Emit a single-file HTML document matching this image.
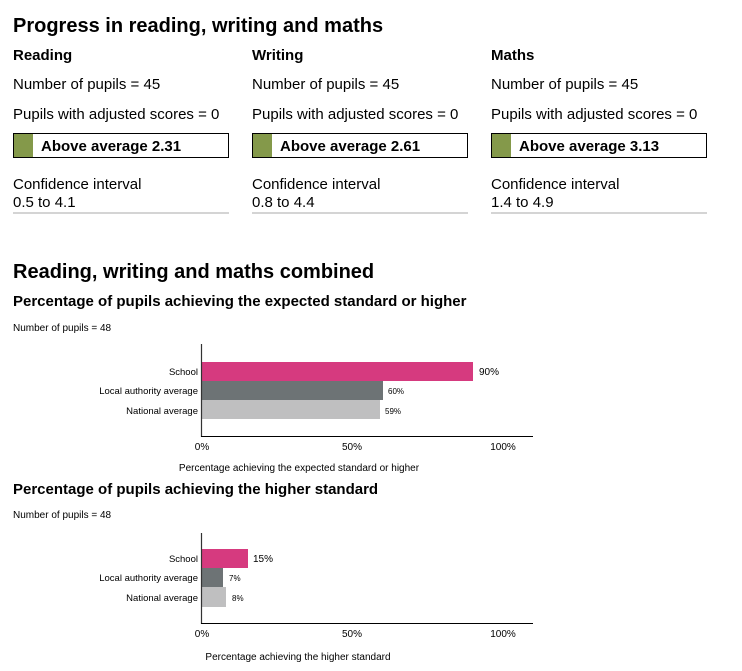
<!DOCTYPE html>
<html><head><meta charset="utf-8"><style>
html,body{margin:0;padding:0;background:#fff;}
svg{display:block;font-family:"Liberation Sans",Arial,sans-serif;}
</style></head><body>
<svg width="742" height="671" viewBox="0 0 742 671" xmlns="http://www.w3.org/2000/svg">
<text x="13" y="32" font-size="20" font-weight="bold" fill="#000">Progress in reading, writing and maths</text>
<g font-size="15" fill="#000">
  <g transform="translate(0,0)">
    <text x="13" y="60" font-weight="bold">Reading</text>
    <text x="13" y="89">Number of pupils = 45</text>
    <text x="13" y="119">Pupils with adjusted scores = 0</text>
    <rect x="13.5" y="133.5" width="215" height="24" fill="#fff" stroke="#000" stroke-width="1"/>
    <rect x="14" y="134" width="19" height="23" fill="#84994a"/>
    <text x="41" y="151" font-weight="bold">Above average 2.31</text>
    <text x="13" y="189">Confidence interval</text>
    <text x="13" y="207">0.5 to 4.1</text>
    <line x1="13" y1="213" x2="229" y2="213" stroke="#aaa"/>
  </g>
  <g transform="translate(239,0)">
    <text x="13" y="60" font-weight="bold">Writing</text>
    <text x="13" y="89">Number of pupils = 45</text>
    <text x="13" y="119">Pupils with adjusted scores = 0</text>
    <rect x="13.5" y="133.5" width="215" height="24" fill="#fff" stroke="#000" stroke-width="1"/>
    <rect x="14" y="134" width="19" height="23" fill="#84994a"/>
    <text x="41" y="151" font-weight="bold">Above average 2.61</text>
    <text x="13" y="189">Confidence interval</text>
    <text x="13" y="207">0.8 to 4.4</text>
    <line x1="13" y1="213" x2="229" y2="213" stroke="#aaa"/>
  </g>
  <g transform="translate(478,0)">
    <text x="13" y="60" font-weight="bold">Maths</text>
    <text x="13" y="89">Number of pupils = 45</text>
    <text x="13" y="119">Pupils with adjusted scores = 0</text>
    <rect x="13.5" y="133.5" width="215" height="24" fill="#fff" stroke="#000" stroke-width="1"/>
    <rect x="14" y="134" width="19" height="23" fill="#84994a"/>
    <text x="41" y="151" font-weight="bold">Above average 3.13</text>
    <text x="13" y="189">Confidence interval</text>
    <text x="13" y="207">1.4 to 4.9</text>
    <line x1="13" y1="213" x2="229" y2="213" stroke="#aaa"/>
  </g>
</g>
<text x="13" y="278" font-size="20" font-weight="bold">Reading, writing and maths combined</text>
<text x="13" y="306" font-size="15" font-weight="bold">Percentage of pupils achieving the expected standard or higher</text>
<text x="13" y="331" font-size="10">Number of pupils = 48</text>

<g font-size="9.5">
  <rect x="202" y="362" width="271" height="19" fill="#d63a7f"/>
  <rect x="202" y="381" width="181" height="19" fill="#6d7375"/>
  <rect x="202" y="400" width="178" height="19" fill="#bfbfc0"/>
  <line x1="201.5" y1="344" x2="201.5" y2="437" stroke="#333" stroke-width="1.2"/>
  <line x1="201" y1="436.5" x2="533" y2="436.5" stroke="#000" stroke-width="1"/>
  <text x="198" y="375" text-anchor="end">School</text>
  <text x="198" y="394" text-anchor="end">Local authority average</text>
  <text x="198" y="414" text-anchor="end">National average</text>
  <text x="479" y="375" font-size="10">90%</text>
  <text x="388" y="394" font-size="8">60%</text>
  <text x="385" y="414" font-size="8">59%</text>
  <text x="202" y="450" text-anchor="middle" font-size="10">0%</text>
  <text x="352" y="450" text-anchor="middle" font-size="10">50%</text>
  <text x="503" y="450" text-anchor="middle" font-size="10">100%</text>
  <text x="299" y="471" text-anchor="middle" font-size="10">Percentage achieving the expected standard or higher</text>
</g>

<text x="13" y="494" font-size="15" font-weight="bold">Percentage of pupils achieving the higher standard</text>
<text x="13" y="518" font-size="10">Number of pupils = 48</text>

<g font-size="9.5">
  <rect x="202" y="549" width="46" height="19" fill="#d63a7f"/>
  <rect x="202" y="568" width="21" height="19" fill="#6d7375"/>
  <rect x="202" y="587" width="24" height="20" fill="#bfbfc0"/>
  <line x1="201.5" y1="533" x2="201.5" y2="624" stroke="#333" stroke-width="1.2"/>
  <line x1="201" y1="623.5" x2="533" y2="623.5" stroke="#000" stroke-width="1"/>
  <text x="198" y="562" text-anchor="end">School</text>
  <text x="198" y="581" text-anchor="end">Local authority average</text>
  <text x="198" y="601" text-anchor="end">National average</text>
  <text x="253" y="562" font-size="10">15%</text>
  <text x="229" y="581" font-size="8">7%</text>
  <text x="232" y="601" font-size="8">8%</text>
  <text x="202" y="637" text-anchor="middle" font-size="10">0%</text>
  <text x="352" y="637" text-anchor="middle" font-size="10">50%</text>
  <text x="503" y="637" text-anchor="middle" font-size="10">100%</text>
  <text x="298" y="660" text-anchor="middle" font-size="10">Percentage achieving the higher standard</text>
</g>
</svg>
</body></html>
